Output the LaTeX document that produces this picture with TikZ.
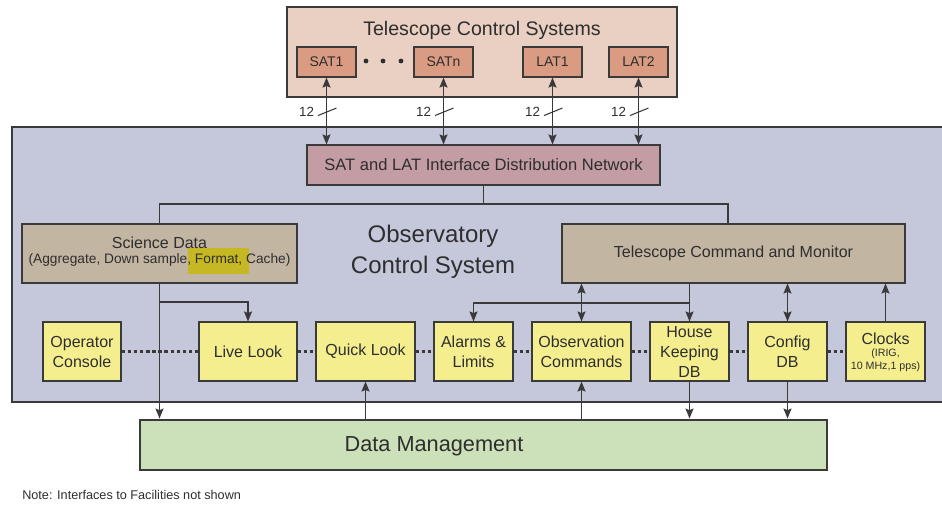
\documentclass[tikz,border=0pt]{standalone}
\usepackage{fontspec}
\setmainfont{Liberation Sans}
\usetikzlibrary{arrows.meta,calc}
\definecolor{txt}{HTML}{2E2E2E}
\definecolor{edge}{HTML}{3A3A3A}
\definecolor{tcsfill}{HTML}{E9D0C2}
\definecolor{satfill}{HTML}{D99C82}
\definecolor{mainfill}{HTML}{C5C8DB}
\definecolor{netfill}{HTML}{C39CA4}
\definecolor{tanfill}{HTML}{C2B5A2}
\definecolor{yelfill}{HTML}{F5EE8E}
\definecolor{dmfill}{HTML}{CCE0B9}
\definecolor{hilite}{HTML}{C5B822}
\tikzset{
  box/.style={draw=edge, line width=0.8pt, inner sep=0pt, align=center, text=txt},
  thickbox/.style={draw=edge, line width=2.2pt, inner sep=0pt},
  sz/.style 2 args={minimum width=#1*0.75pt, minimum height=#2*0.75pt},
  lbl/.style={text=txt, inner sep=0pt, align=center},
  f12/.style={font=\fontsize{12}{15}\selectfont},
  satbox/.style={box, fill=satfill, sz={59}{30}, font=\fontsize{10.5}{12}\selectfont},
  ybox/.style={box, fill=yelfill, f12},
  conn/.style={draw=edge, line width=1pt},
  arr/.style={conn, -{Stealth[length=7.5pt,width=6pt,inset=1.2pt]}},
  darr/.style={conn, {Stealth[length=7.5pt,width=6pt,inset=1.2pt]}-{Stealth[length=7.5pt,width=6pt,inset=1.2pt]}},
  dotline/.style={draw=edge, line width=2.2pt, dash pattern=on 2.6pt off 2pt},
  dotn/.style={circle, fill=txt, inner sep=0pt, minimum size=3.6pt},
  slash/.style={draw=edge, line width=0.8pt},
  twelve/.style={lbl, font=\fontsize{10}{12}\selectfont}
}
\begin{document}
\begin{tikzpicture}[x=0.75pt,y=-0.75pt]
\useasboundingbox (0,0) rectangle (942,504);
\clip (0,0) rectangle (942,504);

% Telescope Control Systems
\node[thickbox, fill=tcsfill, sz={390}{90}] (tcs) at (482,52) {};
\node[lbl, font=\fontsize{14.7}{17}\selectfont] (tcstitle) at (482,30) {Telescope Control Systems};
\node[satbox] (sat1) at (326.5,62) {SAT1};
\node[satbox] (satn) at (443.5,62) {SATn};
\node[satbox] (lat1) at (552.5,62) {LAT1};
\node[satbox] (lat2) at (638.5,62) {LAT2};
\node[dotn] (d1) at (366,61) {};
\node[dotn] (d2) at (383,61) {};
\node[dotn] (d3) at (401,61) {};

% Observatory Control System main box
\node[thickbox, fill=mainfill, sz={940}{275}] (ocs) at (482,264.5) {};
\node[lbl, font=\fontsize{18}{23}\selectfont] (ocstitle) at (433,252) {Observatory\\Control System};

\node[box, fill=netfill, sz={353}{40}, font=\fontsize{12.4}{15}\selectfont] (net) at (483.5,165) {SAT and LAT Interface Distribution Network};

% Science Data
\node[box, fill=tanfill, sz={275}{59}] (sd) at (159.5,253.5) {};
\node[fill=hilite, inner sep=0pt, sz={61}{26}] (hl) at (218.5,261) {};
\node[lbl, f12] (sdtitle) at (159.5,243) {Science Data};
\node[lbl, font=\fontsize{10.3}{12}\selectfont] (sdsub) at (159.5,259.5) {(Aggregate, Down sample, Format, Cache)};

% Telescope Command and Monitor
\node[box, fill=tanfill, sz={343}{59}, f12] (tcm) at (733.5,253.5) {Telescope Command and Monitor};

% yellow row
\node[ybox, sz={78}{59}] (op) at (82,351.5) {Operator\\Console};
\node[ybox, sz={98}{59}] (live) at (248,351.5) {Live Look};
\node[ybox, sz={99}{59}] (quick) at (365.5,351.5) {Quick Look};
\node[ybox, sz={79}{59}] (alarms) at (473.5,351.5) {Alarms \&\\Limits};
\node[ybox, sz={99}{59}] (obs) at (581.5,351.5) {Observation\\Commands};
\node[ybox, sz={79}{59}] (hk) at (689.5,351.5) {House\\Keeping\\DB};
\node[ybox, sz={79}{59}] (cfg) at (787.5,351.5) {Config\\DB};
\node[ybox, sz={79}{59}] (clk) at (885.5,351.5) {};
\node[lbl, f12] (clktitle) at (885.5,339) {Clocks};
\node[lbl, font=\fontsize{8}{9.8}\selectfont] (clksub) at (885.5,360.5) {(IRIG,\\10 MHz,1 pps)};

% dotted links
\draw[dotline] (op.east) -- (live.west);
\draw[dotline] (live.east) -- (quick.west);
\draw[dotline] (quick.east) -- (alarms.west);
\draw[dotline] (alarms.east) -- (obs.west);
\draw[dotline] (obs.east) -- (hk.west);
\draw[dotline] (hk.east) -- (cfg.west);
\draw[dotline] (cfg.east) -- (clk.west);

% Data Management
\node[thickbox, fill=dmfill, sz={687}{50}] (dm) at (483.5,445) {};
\node[lbl, font=\fontsize{16.3}{19}\selectfont] (dmtext) at (434,446) {Data Management};

% Note
\node[lbl, anchor=west, font=\fontsize{9.5}{11}\selectfont] (note) at (22,495) {Note: Interfaces to Facilities not shown};

% TCS <-> network
\foreach \n in {sat1,satn,lat1,lat2}{
  \draw[darr] (\n.south) -- (\n.south |- net.north);
}
\foreach \n in {sat1,satn,lat1,lat2}{
  \draw[slash] ($(\n.south)+(-8.5,38)$) -- ($(\n.south)+(10,30.5)$);
  \node[twelve] at ($(\n.south)+(-20,34.5)$) {12};
}

% network to Science Data and TCM
\coordinate (bus) at (483.5,204);
\coordinate (tcmtop) at (728,224);
\draw[conn] (net.south) -- (bus);
\draw[conn] (sd.north) -- (sd.north |- bus) -- (bus -| tcmtop) -- (tcmtop);

% Science Data outputs
\coordinate (sdb) at (159.5,302);
\draw[arr] (sd.south) -- (sd.south |- dm.north);
\draw[arr] (sdb) -| (live.north);

% TCM connections
\coordinate (tcb) at (689.5,303);
\draw[darr] (obs.north |- tcm.south) -- (obs.north);
\draw[arr] (hk.north |- tcm.south) -- (hk.north);
\draw[arr] (tcb) -| (alarms.north);
\draw[darr] (cfg.north |- tcm.south) -- (cfg.north);
\draw[arr] (clk.north) -- (clk.north |- tcm.south);

% Data Management connections
\draw[arr] (quick.south |- dm.north) -- (quick.south);
\draw[arr] (obs.south |- dm.north) -- (obs.south);
\draw[arr] (hk.south) -- (hk.south |- dm.north);
\draw[arr] (cfg.south) -- (cfg.south |- dm.north);
\end{tikzpicture}
\end{document}
